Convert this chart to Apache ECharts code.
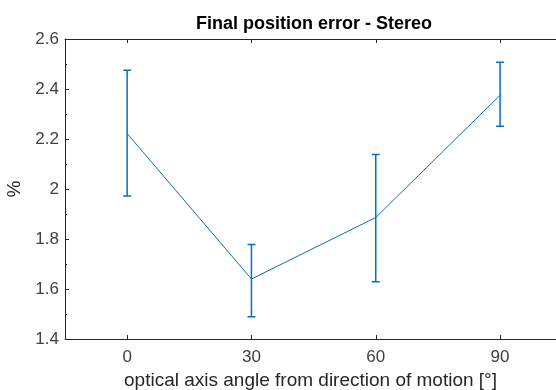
<!DOCTYPE html>
<html>
<head>
<meta charset="utf-8">
<script src="https://cdn.jsdelivr.net/npm/echarts@6/dist/echarts.min.js"></script>
<style>
  html, body { margin: 0; padding: 0; background: #fff; }
  #chart { width: 556px; height: 390px; }
</style>
</head>
<body>
<div id="chart"></div>
<script>
// data
const angles = [0, 30, 60, 90];
const meanErr = [2.222, 1.640, 1.886, 2.375];
const lowerErr = [1.972, 1.489, 1.629, 2.251];
const upperErr = [2.475, 1.778, 2.138, 2.507];
const xTicks = [0, 30, 60, 90];

const lineColor = "#0072BD";
const axisColor = "#262626";
const font = "Liberation Sans, Arial, Helvetica, sans-serif";

const chart = echarts.init(document.getElementById("chart"));

const errData = angles.map((a, i) => [a, lowerErr[i], upperErr[i]]);

chart.setOption({
  animation: false,
  title: {
    text: "Final position error - Stereo",
    left: 309,
    textAlign: "center",
    top: 10,
    textStyle: { fontFamily: font, fontSize: 18, fontWeight: "bold", color: "#000" },
  },
  // plot box runs past the right edge of the image (x axis max cut at ~103.5)
  grid: { left: 65, top: 39, right: 0, bottom: 51, containLabel: false, outerBoundsMode: "none" },
  xAxis: [
    {
      type: "value",
      min: -15,
      max: 103.5,
      position: "bottom",
      name: "optical axis angle from direction of motion [°]",
      nameLocation: "middle",
      nameGap: 31,
      nameTextStyle: { fontFamily: font, fontSize: 19, color: axisColor },
      axisLine: { onZero: false, lineStyle: { color: axisColor, width: 1 } },
      axisTick: { inside: true, length: 4, customValues: xTicks, lineStyle: { color: axisColor } },
      axisLabel: { customValues: xTicks, fontFamily: font, fontSize: 17, color: "#404040", margin: 10 },
      splitLine: { show: false },
    },
    {
      type: "value",
      min: -15,
      max: 103.5,
      position: "top",
      axisLine: { onZero: false, lineStyle: { color: axisColor, width: 1 } },
      axisTick: { inside: true, length: 4, customValues: xTicks, lineStyle: { color: axisColor } },
      axisLabel: { show: false },
      splitLine: { show: false },
    },
  ],
  yAxis: {
    type: "value",
    min: 1.4,
    max: 2.6,
    interval: 0.2,
    name: "%",
    nameLocation: "middle",
    nameGap: 37,
    nameRotate: 90,
    nameTextStyle: { fontFamily: font, fontSize: 19, color: axisColor },
    axisLine: { show: true, onZero: false, lineStyle: { color: axisColor, width: 1 } },
    axisTick: { show: true, inside: true, length: 4, lineStyle: { color: axisColor } },
    minorTick: { show: true, splitNumber: 2, length: 2, lineStyle: { color: axisColor } },
    axisLabel: {
      fontFamily: font,
      fontSize: 17,
      color: "#404040",
      margin: 6,
      formatter: (v) => String(Math.round(v * 10) / 10),
    },
    splitLine: { show: false },
  },
  series: [
    {
      type: "line",
      data: angles.map((a, i) => [a, meanErr[i]]),
      symbol: "none",
      lineStyle: { color: lineColor, width: 1 },
      z: 3,
    },
    {
      type: "custom",
      data: errData,
      z: 4,
      renderItem: (params, api) => {
        const x = api.value(0);
        const lo = api.coord([x, api.value(1)]);
        const hi = api.coord([x, api.value(2)]);
        const cap = 4;
        const style = { stroke: lineColor, lineWidth: 1.5, fill: null };
        return {
          type: "group",
          children: [
            { type: "line", shape: { x1: lo[0], y1: lo[1], x2: hi[0], y2: hi[1] }, style },
            { type: "line", shape: { x1: lo[0] - cap, y1: lo[1], x2: lo[0] + cap, y2: lo[1] }, style },
            { type: "line", shape: { x1: hi[0] - cap, y1: hi[1], x2: hi[0] + cap, y2: hi[1] }, style },
          ],
        };
      },
    },
  ],
});
</script>
</body>
</html>
